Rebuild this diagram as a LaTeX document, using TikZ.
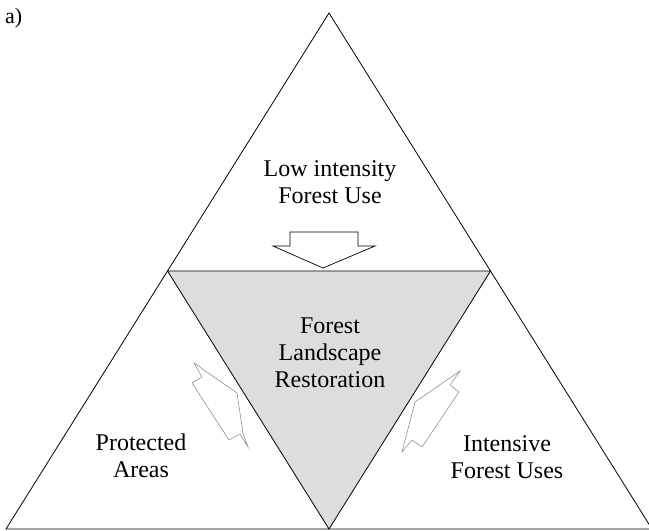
\documentclass[tikz,border=0pt]{standalone}
\usepackage{fontspec}
\setmainfont{Liberation Serif}
\usetikzlibrary{calc}
\definecolor{flrgray}{RGB}{220,221,222}
\begin{document}
\begin{tikzpicture}[x=1pt, y=-1pt,
    zonetext/.style={align=center, inner sep=0pt, font=\fontsize{24}{27}\selectfont},
    sidearrow/.style={draw=gray, line width=0.5pt, line join=miter}]
  \useasboundingbox (0,0) rectangle (649,531);
  % corners of the big triangle and its midpoints
  \coordinate (top) at (329,13);
  \coordinate (left) at (6,529);
  \coordinate (right) at (652,529);
  \coordinate (midl) at ($(top)!0.5!(left)$);
  \coordinate (midr) at ($(top)!0.5!(right)$);
  \coordinate (midb) at ($(left)!0.5!(right)$);
  \fill[flrgray] (midl) -- (midr) -- (midb) -- cycle;
  \draw[line width=0.8pt] (top) -- (left) -- (right) -- cycle;
  \draw[line width=0.8pt] (midl) -- (midr) -- (midb) -- cycle;
  \node[anchor=base west, font=\fontsize{22}{26}\selectfont, inner sep=0pt] (tag) at (5,23) {a)};
  \node[zonetext] (lowuse) at (330,182) {Low intensity\\Forest Use};
  \node[zonetext] (flr) at (330,353) {Forest\\Landscape\\Restoration};
  \node[zonetext] (protected) at (141,456) {Protected\\Areas};
  \node[zonetext] (intensive) at (507,457) {Intensive\\Forest Uses};
  % block arrows
  \draw[line width=0.7pt, fill=white] (290,232) -- (358,232) -- (358,246) -- (375,246)
    -- (323,268) -- (273,246) -- (290,246) -- cycle;
  \draw[sidearrow] (194,363) -- (202,377) -- (192,383) -- (229,440) -- (240,434)
    -- (248,447) -- (243,433) -- (237,393) -- cycle;
  \draw[sidearrow] (460,371) -- (450,385) -- (459,392) -- (422,447) -- (412,440)
    -- (402,452) -- (415,402) -- cycle;
\end{tikzpicture}
\end{document}
